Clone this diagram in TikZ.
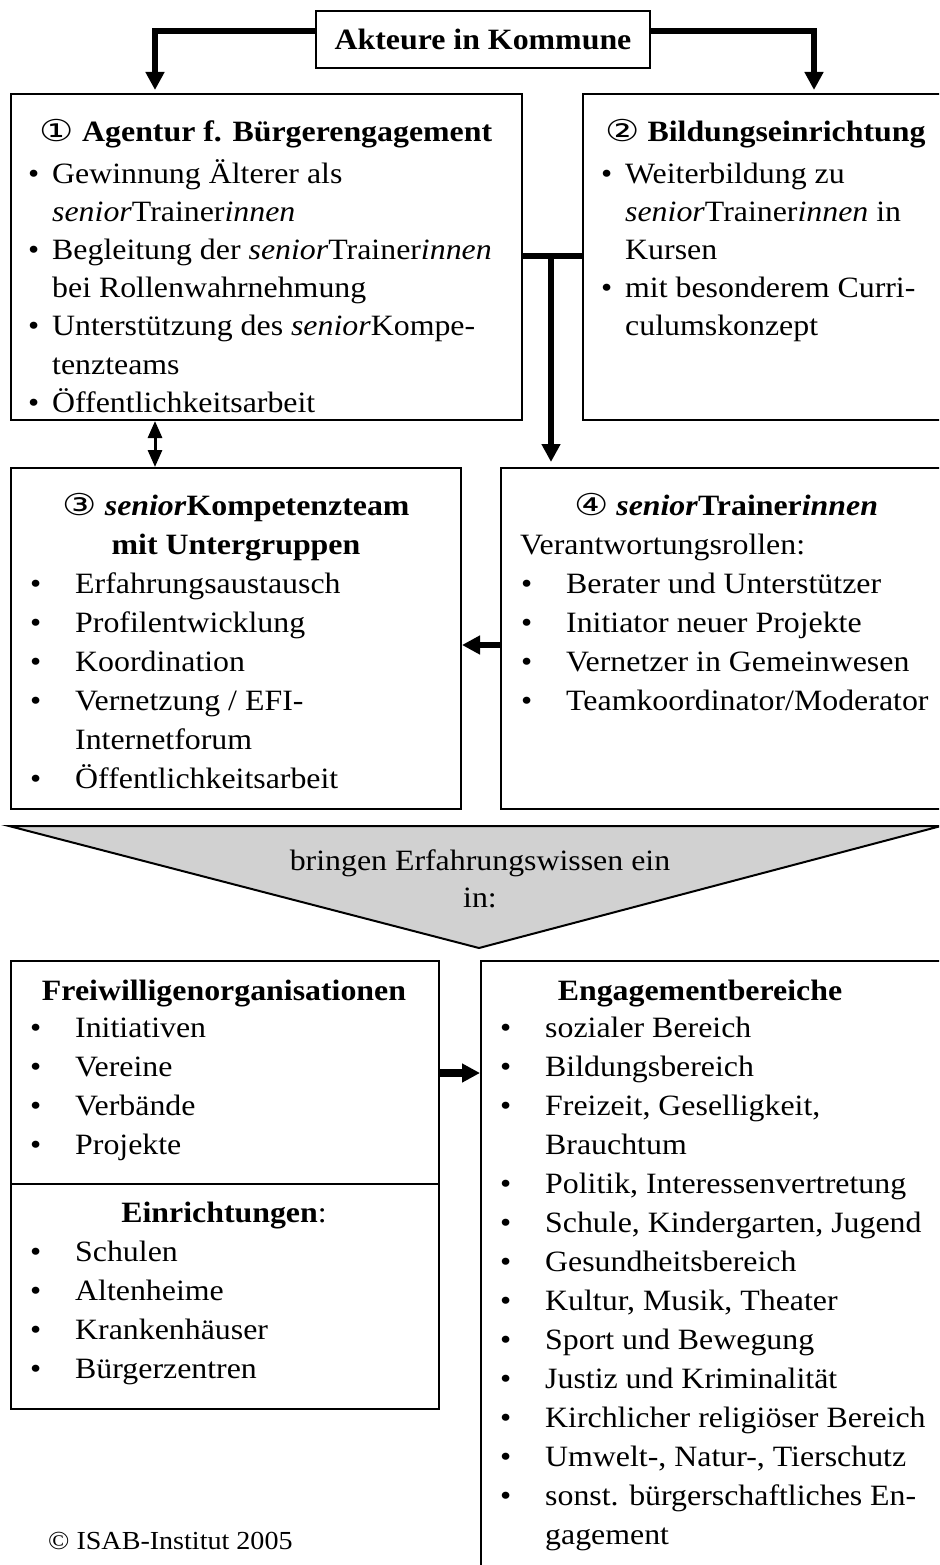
\documentclass[tikz,border=0pt]{standalone}
\usepackage{fontspec}
\setmainfont{Liberation Serif}[FakeStretch=1.08]
\newfontfamily\circfont{DejaVu Sans}
\usetikzlibrary{arrows.meta}

\newcommand\bodyfont{\fontsize{29.5}{39}\selectfont}
\newcommand\bulS{\makebox[0pt][r]{\textbullet\hspace{13pt}}}
\newcommand\bulT{\makebox[0pt][r]{\textbullet\hspace{34pt}}}
\newcommand\cnum[1]{\scalebox{1.3}[1.02]{\circfont\mdseries #1}}
\newcommand\sT{\textit{senior}Trainer\textit{innen}}

\tikzset{
  box/.style={draw, line width=2pt, anchor=north west, inner sep=0pt},
  txt/.style={anchor=base west, inner sep=0pt},
  txtc/.style={anchor=base, inner sep=0pt},
  head/.style={anchor=base, inner sep=0pt, font=\bodyfont\bfseries},
  bar/.style={line width=6pt},
  conn/.style={line width=6pt, -{Triangle[length=18pt,width=18pt]}},
  dbl/.style={line width=3pt, {Triangle[length=17pt,width=14pt]}-{Triangle[length=17pt,width=14pt]}},
}

\begin{document}
\begin{tikzpicture}[x=1pt, y=-1pt, font=\bodyfont]
  \useasboundingbox (0,0) rectangle (939,1565);
  \clip (0,0) rectangle (939,1565);

  % boxes
  \node[draw, line width=2pt, minimum width=334pt, minimum height=57pt, font=\bodyfont\bfseries] (akteure) at (483,39.5) {Akteure in Kommune};
  \node[box, minimum width=511pt, minimum height=326pt] (agentur) at (10,93) {};
  \node[box, minimum width=400pt, minimum height=326pt] (bildung) at (582,93) {};
  \node[box, minimum width=450pt, minimum height=341pt] (kompetenz) at (10,467) {};
  \node[box, minimum width=460pt, minimum height=341pt] (trainer) at (500,467) {};
  \node[box, minimum width=428pt, minimum height=448pt] (freiw) at (10,960) {};
  \node[box, minimum width=480pt, minimum height=640pt] (engag) at (480,960) {};
  \coordinate (dy) at (0,1184);
  \draw[line width=2pt] (freiw.west |- dy) -- (freiw.east |- dy);

  % headings
  \node[head] (agenturT) at (266,142) {\cnum{①} Agentur f. Bürgerengagement};
  \node[head, anchor=base west] (bildungT) at (605,142) {\cnum{②} Bildungseinrichtung};
  \node[head] (kompT) at (236,515) {\cnum{③} \textit{senior}Kompetenzteam};
  \node[head] (kompU) at (236,554) {mit Untergruppen};
  \node[head] (trainT) at (726,515) {\cnum{④} \sT};
  \node[txt] (trainV) at (520,554) {Verantwortungsrollen:};
  \node[head] (freiwT) at (224,1000) {Freiwilligenorganisationen};
  \node[head] (einrT) at (224,1222) {Einrichtungen\mdseries:};
  \node[head] (engagT) at (700,1000) {Engagementbereiche};

  % lists
  \foreach \t [count=\i from 0] in {{\bulS Gewinnung Älterer als},{\sT},{\bulS Begleitung der \sT},{bei Rollenwahrnehmung},{\bulS Unterstützung des \textit{senior}Kompe-},{tenzteams},{\bulS Öffentlichkeitsarbeit}}
    {\node[txt] (ag\i) at (52,183+38.2*\i) {\t};}
  \foreach \t [count=\i from 0] in {{\bulS Weiterbildung zu},{\sT{} in},{Kursen},{\bulS mit besonderem Curri-},{culumskonzept}}
    {\node[txt] (bi\i) at (625,183+38.2*\i) {\t};}
  \foreach \t [count=\i from 0] in {{\bulT Erfahrungsaustausch},{\bulT Profilentwicklung},{\bulT Koordination},{\bulT Vernetzung / EFI-},{Internetforum},{\bulT Öffentlichkeitsarbeit}}
    {\node[txt] (ko\i) at (75,593+39*\i) {\t};}
  \foreach \t [count=\i from 0] in {{Berater und Unterstützer},{Initiator neuer Projekte},{Vernetzer in Gemeinwesen},{Teamkoordinator/Moderator}}
    {\node[txt] (tr\i) at (566,593+39*\i) {\bulT\t};}
  \foreach \t [count=\i from 0] in {Initiativen,Vereine,Verbände,Projekte}
    {\node[txt] (fr\i) at (75,1037+39*\i) {\bulT\t};}
  \foreach \t [count=\i from 0] in {Schulen,Altenheime,Krankenhäuser,Bürgerzentren}
    {\node[txt] (ei\i) at (75,1261+39*\i) {\bulT\t};}
  \foreach \t [count=\i from 0] in {{\bulT sozialer Bereich},{\bulT Bildungsbereich},{\bulT Freizeit, Geselligkeit,},{Brauchtum},{\bulT Politik, Interessenvertretung},{\bulT Schule, Kindergarten, Jugend},{\bulT Gesundheitsbereich},{\bulT Kultur, Musik, Theater},{\bulT Sport und Bewegung},{\bulT Justiz und Kriminalität},{\bulT Kirchlicher religiöser Bereich},{\bulT Umwelt-, Natur-, Tierschutz},{\bulT sonst. bürgerschaftliches En-},{gagement}}
    {\node[txt] (en\i) at (545,1037+39*\i) {\t};}

  % triangle
  \draw[line width=2pt, fill=black!18] (9,826) -- (941,826) -- (479,948) -- cycle;
  \node[txtc] (bringen) at (480,870) {bringen Erfahrungswissen ein};
  \node[txtc] (bringenB) at (480,907) {in:};

  \node[txt, font=\fontsize{26}{30}\selectfont] (isab) at (48,1549) {© ISAB-Institut 2005};

  % connectors
  \coordinate (ky) at (0,31);
  \coordinate (dx) at (155,0);
  \coordinate (rx) at (814,0);
  \coordinate (mid) at (551,256);
  \coordinate (ly) at (0,645);
  \coordinate (fy) at (0,1073);
  \draw[conn] (akteure.west |- ky) -| ([yshift=3pt]dx |- agentur.north);
  \draw[conn] (akteure.east |- ky) -| ([yshift=3pt]rx |- bildung.north);
  \draw[bar] (agentur.east |- mid) -- (bildung.west |- mid);
  \draw[conn, shorten >=5pt] (mid) -- (mid |- trainer.north);
  \draw[dbl] (dx |- agentur.south) -- (dx |- kompetenz.north);
  \draw[conn] (trainer.west |- ly) -- (kompetenz.east |- ly);
  \draw[conn, line width=8pt] (freiw.east |- fy) -- (engag.west |- fy);
\end{tikzpicture}
\end{document}
